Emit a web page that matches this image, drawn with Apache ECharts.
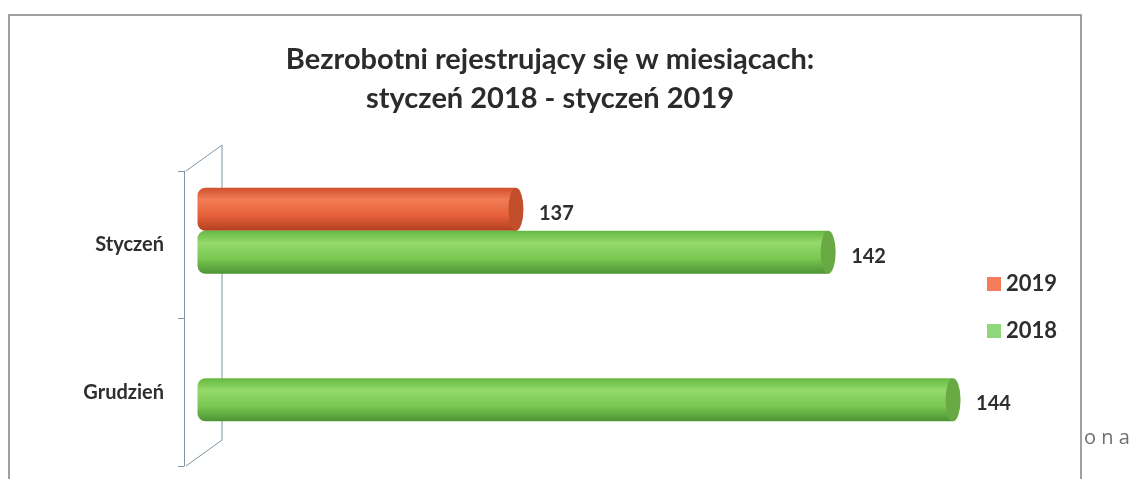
<!DOCTYPE html>
<html>
<head>
<meta charset="utf-8">
<script src="https://cdn.jsdelivr.net/npm/echarts@6/dist/echarts.min.js"></script>
<style>
  html, body { margin: 0; padding: 0; background: #fff; }
  #chart { width: 1141px; height: 479px; }
</style>
</head>
<body>
<div id="chart"></div>
<script>
// dane
const categories = ['Styczeń', 'Grudzień']
const seriesNames = ['2019', '2018']
const values2019 = [137, '-']
const values2018 = [142, 144]

const font = 'Lato, "Open Sans", sans-serif'

const chart = echarts.init(document.getElementById('chart'))

const cylinder = (c0, c1, c2, c3) => ({
  type: 'linear', x: 0, y: 0, x2: 0, y2: 1,
  colorStops: [
    { offset: 0, color: c0 },
    { offset: 0.28, color: c1 },
    { offset: 0.65, color: c2 },
    { offset: 1, color: c3 }
  ]
})

const barLabel = {
  show: true,
  position: 'right',
  distance: 23,
  offset: [0, 4],
  color: '#2e2e2e',
  fontFamily: font,
  fontWeight: 'bold',
  fontSize: 20
}

const gap = { barGap: 0, barCategoryGap: '41.6%' }

const option = {
  backgroundColor: '#fff',
  animation: false,
  title: {
    text: 'Bezrobotni rejestrujący się w miesiącach:\nstyczeń 2018 - styczeń 2019',
    left: 545,
    top: 35,
    textAlign: 'center',
    textStyle: {
      color: '#2b2b2b',
      fontFamily: font,
      fontWeight: 'bold',
      fontSize: 29,
      lineHeight: 39
    }
  },
  legend: {
    orient: 'vertical',
    left: 982,
    top: 268,
    itemWidth: 14,
    itemHeight: 14,
    itemGap: 25,
    textStyle: {
      color: '#2e2e2e',
      fontFamily: font,
      fontWeight: 'bold',
      fontSize: 22
    },
    data: [
      { name: seriesNames[0], icon: 'rect', itemStyle: { color: '#f47c5a' } },
      { name: seriesNames[1], icon: 'rect', itemStyle: { color: '#8fd87a' } }
    ]
  },
  grid: [
    // oś kategorii z etykietami (przednia ścianka)
    { left: 184, right: 125, top: 171, bottom: 13 },
    // słupki (przesunięte w głąb)
    { left: 197.5, right: 125.5, top: 157, bottom: 27 }
  ],
  xAxis: [
    { gridIndex: 0, type: 'value', min: 0, max: 1, show: false },
    { gridIndex: 1, type: 'value', min: 131.9, max: 145, show: false }
  ],
  yAxis: [
    {
      gridIndex: 0,
      type: 'category',
      inverse: true,
      data: categories,
      axisLine: { show: true, lineStyle: { color: '#7f97a8', width: 1 } },
      axisTick: { show: true, length: 6, lineStyle: { color: '#7f97a8' } },
      axisLabel: {
        margin: 20,
        color: '#2e2e2e',
        fontFamily: font,
        fontWeight: 'bold',
        fontSize: 20
      }
    },
    { gridIndex: 1, type: 'category', inverse: true, data: categories, show: false }
  ],
  series: [
    {
      name: seriesNames[0],
      type: 'bar',
      xAxisIndex: 1,
      yAxisIndex: 1,
      ...gap,
      data: values2019,
      itemStyle: {
        color: cylinder('#d0502e', '#f27c55', '#e5603a', '#b0401f'),
        borderRadius: [8, 0, 0, 8]
      },
      label: barLabel,
      z: 2
    },
    {
      name: seriesNames[1],
      type: 'bar',
      xAxisIndex: 1,
      yAxisIndex: 1,
      ...gap,
      data: values2018,
      itemStyle: {
        color: cylinder('#66b842', '#94da6c', '#7ac751', '#4c9334'),
        borderRadius: [8, 0, 0, 8]
      },
      label: barLabel,
      z: 2
    },
    {
      name: seriesNames[0],
      type: 'pictorialBar',
      xAxisIndex: 1,
      yAxisIndex: 1,
      ...gap,
      data: values2019,
      symbol: 'circle',
      symbolSize: [15, '100%'],
      symbolPosition: 'end',
      symbolOffset: ['50%', 0],
      itemStyle: { color: '#c24e2c' },
      z: 3
    },
    {
      name: seriesNames[1],
      type: 'pictorialBar',
      xAxisIndex: 1,
      yAxisIndex: 1,
      ...gap,
      data: values2018,
      symbol: 'circle',
      symbolSize: [15, '100%'],
      symbolPosition: 'end',
      symbolOffset: ['50%', 0],
      itemStyle: { color: '#68a944' },
      z: 3
    }
  ],
  graphic: [
    // ramka wykresu
    {
      type: 'polyline',
      shape: { points: [[9, 479], [9, 15], [1081, 15], [1081, 479]] },
      style: { stroke: '#808080', lineWidth: 1.5, fill: null },
      silent: true
    },
    // tylna ścianka 3D
    {
      type: 'polyline',
      shape: { points: [[186, 171], [222, 145], [222, 440], [186, 466]] },
      style: { stroke: '#7f97a8', lineWidth: 1, fill: null },
      silent: true
    },
    {
      type: 'text',
      left: 1084,
      top: 428,
      style: {
        text: 'o n a',
        fill: '#6f6f6f',
        font: '20px "Open Sans", sans-serif'
      },
      silent: true
    }
  ]
}

chart.setOption(option)
</script>
</body>
</html>
